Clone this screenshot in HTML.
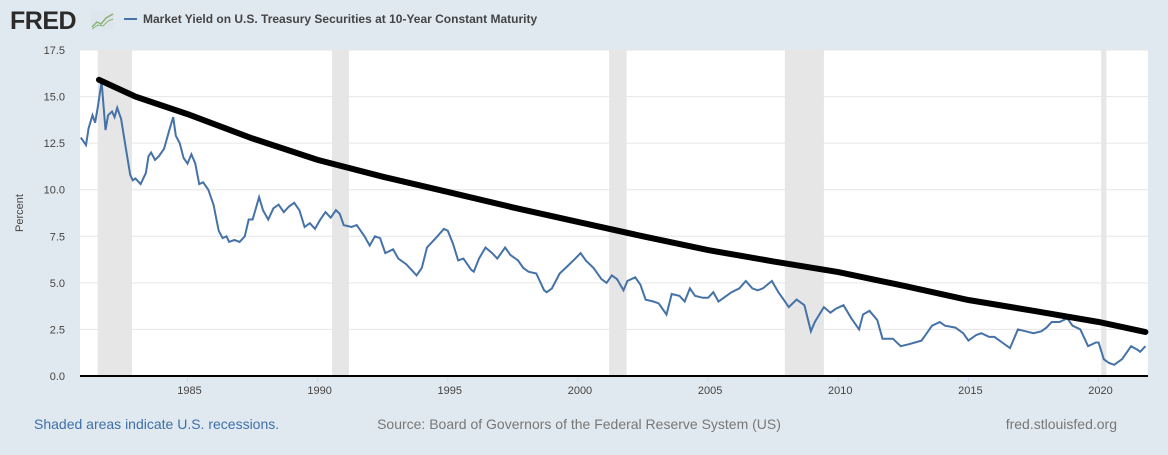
<!DOCTYPE html>
<html><head><meta charset="utf-8"><style>
body{margin:0;width:1168px;height:450px;background:#e1e9f0;font-family:"Liberation Sans",sans-serif;overflow:hidden}
</style></head><body>
<svg width="1168" height="450">
<g>
<text x="10" y="29" font-size="25" font-weight="bold" fill="#2b2b2b" letter-spacing="-0.5">FRED</text>
<rect x="91" y="11" width="23" height="19" fill="#dde6ec"/>
<polyline points="92,27 97,22 101,24 106,18 113,14" fill="none" stroke="#8bb174" stroke-width="1.5"/>
<polyline points="92,29 98,25 103,26 108,21 113,19" fill="none" stroke="#8bb174" stroke-width="1"/>
</g>
<line x1="124" y1="19" x2="137" y2="19" stroke="#4572a7" stroke-width="2"/>
<text x="143" y="23" font-size="12" font-weight="bold" fill="#444">Market Yield on U.S. Treasury Securities at 10-Year Constant Maturity</text>
<rect x="80" y="50" width="1068" height="326" fill="#fff"/>
<g id="rec"></g><g id="grid"></g><g id="xt"></g>
<line x1="80" y1="376" x2="1148" y2="376" stroke="#000" stroke-width="2"/>
<path id="blue" fill="none" stroke="#4572a7" stroke-width="2"/>
<path id="trend" fill="none" stroke="#000" stroke-width="6" stroke-linecap="round"/>
<text transform="translate(23,213) rotate(-90)" text-anchor="middle" font-size="11" fill="#444">Percent</text>
<text x="34" y="429" font-size="14" fill="#3e6fa8">Shaded areas indicate U.S. recessions.</text>
<text x="579" y="429" text-anchor="middle" font-size="14" fill="#777">Source: Board of Governors of the Federal Reserve System (US)</text>
<text x="1117" y="429" text-anchor="end" font-size="14" fill="#777">fred.stlouisfed.org</text>
</svg>
<script>
const yTicks=[0,2.5,5,7.5,10,12.5,15,17.5];
const xTicks=[1985,1990,1995,2000,2005,2010,2015,2020];
const recessions=[[1981.55,1982.87],[1990.55,1991.2],[2001.2,2001.87],[2007.95,2009.45],[2020.1,2020.3]];
const trendYears=[1981.6,1983,1985,1987.5,1990,1992.5,1995,1997.5,2000,2002.5,2005,2007.5,2010,2012.5,2015,2017.5,2020,2021.8];
const trendVals=[15.9,15.0,14.06,12.75,11.6,10.7,9.88,9.05,8.27,7.5,6.76,6.15,5.58,4.85,4.08,3.5,2.9,2.36];
const years=[1980.9,1981.1,1981.2,1981.35,1981.45,1981.55,1981.7,1981.85,1981.95,1982.1,1982.2,1982.3,1982.45,1982.6,1982.8,1982.9,1983.0,1983.2,1983.4,1983.5,1983.6,1983.75,1983.9,1984.1,1984.3,1984.45,1984.55,1984.7,1984.85,1985.0,1985.15,1985.3,1985.45,1985.6,1985.8,1986.0,1986.2,1986.35,1986.5,1986.6,1986.8,1987.0,1987.2,1987.35,1987.5,1987.75,1987.9,1988.1,1988.3,1988.5,1988.7,1988.9,1989.1,1989.3,1989.5,1989.7,1989.9,1990.1,1990.3,1990.5,1990.7,1990.85,1991.0,1991.3,1991.5,1991.8,1992.0,1992.2,1992.4,1992.6,1992.9,1993.1,1993.4,1993.6,1993.8,1994.0,1994.2,1994.4,1994.6,1994.85,1995.0,1995.2,1995.4,1995.6,1995.9,1996.0,1996.2,1996.45,1996.7,1996.9,1997.2,1997.4,1997.7,1997.9,1998.1,1998.4,1998.7,1998.8,1999.0,1999.3,1999.6,1999.9,2000.1,2000.3,2000.6,2000.9,2001.1,2001.3,2001.5,2001.75,2001.9,2002.2,2002.4,2002.6,2002.9,2003.1,2003.4,2003.6,2003.9,2004.1,2004.3,2004.5,2004.8,2005.0,2005.2,2005.4,2005.7,2005.9,2006.2,2006.45,2006.7,2006.9,2007.1,2007.45,2007.7,2007.9,2008.1,2008.4,2008.7,2008.95,2009.1,2009.45,2009.7,2009.9,2010.2,2010.5,2010.8,2010.95,2011.2,2011.5,2011.7,2011.9,2012.1,2012.4,2012.7,2012.95,2013.2,2013.4,2013.6,2013.9,2014.1,2014.5,2014.8,2015.0,2015.3,2015.5,2015.8,2016.0,2016.3,2016.6,2016.9,2017.2,2017.5,2017.8,2018.0,2018.2,2018.5,2018.8,2019.0,2019.3,2019.6,2019.9,2020.0,2020.2,2020.4,2020.6,2020.9,2021.1,2021.25,2021.5,2021.6,2021.8];
const yields=[12.8,12.4,13.3,14.0,13.6,14.4,15.8,13.2,14.0,14.2,13.9,14.4,13.8,12.5,10.8,10.5,10.6,10.3,10.9,11.8,12.0,11.6,11.8,12.2,13.2,13.9,12.9,12.5,11.7,11.4,11.9,11.4,10.3,10.4,10.0,9.2,7.8,7.4,7.5,7.2,7.3,7.2,7.5,8.4,8.4,9.6,8.9,8.4,9.0,9.2,8.8,9.1,9.3,8.9,8.0,8.2,7.9,8.4,8.8,8.5,8.9,8.7,8.1,8.0,8.1,7.5,7.0,7.5,7.4,6.6,6.8,6.3,6.0,5.7,5.4,5.8,6.9,7.2,7.5,7.9,7.8,7.1,6.2,6.3,5.7,5.6,6.3,6.9,6.6,6.3,6.9,6.5,6.2,5.8,5.6,5.5,4.6,4.5,4.7,5.5,5.9,6.3,6.6,6.2,5.8,5.2,5.0,5.4,5.2,4.6,5.1,5.3,4.9,4.1,4.0,3.9,3.3,4.4,4.3,4.0,4.7,4.3,4.2,4.2,4.5,4.0,4.3,4.5,4.7,5.1,4.7,4.6,4.7,5.1,4.5,4.1,3.7,4.1,3.8,2.4,2.9,3.7,3.4,3.6,3.8,3.1,2.5,3.3,3.5,3.0,2.0,2.0,2.0,1.6,1.7,1.8,1.9,2.3,2.7,2.9,2.7,2.6,2.3,1.9,2.2,2.3,2.1,2.1,1.8,1.5,2.5,2.4,2.3,2.4,2.6,2.9,2.9,3.1,2.7,2.5,1.6,1.8,1.8,0.9,0.7,0.6,0.9,1.3,1.6,1.4,1.3,1.6];
const X=y=>187.5+(y-1985)*26.03, Y=v=>376-v*326/17.5;
const NS="http://www.w3.org/2000/svg";
function mk(t,a,p){const e=document.createElementNS(NS,t);for(const k in a)e.setAttribute(k,a[k]);document.getElementById(p).appendChild(e);return e;}
recessions.forEach(r=>{const e=mk('rect',{x:X(r[0]),y:50,width:X(r[1])-X(r[0]),height:326,fill:'#e6e6e6'},'rec');

});
yTicks.forEach(v=>{if(v>0){const l=mk('line',{x1:80,x2:1148,y1:Y(v),y2:Y(v),stroke:'#e6e6e6'},'grid');

}
const t=mk('text',{x:65,y:Y(v)+4,'text-anchor':'end','font-size':11,fill:'#444'},'grid');t.textContent=v.toFixed(1);

});
xTicks.forEach(y=>{mk('line',{x1:X(y),x2:X(y),y1:376,y2:382,stroke:'#ccd6eb'},'xt');
const t=mk('text',{x:X(y)+2,y:394,'text-anchor':'middle','font-size':11,fill:'#444'},'xt');t.textContent=y;

});
document.getElementById('blue').setAttribute('d',years.map((y,i)=>(i?'L':'M')+X(y).toFixed(1)+','+Y(yields[i]).toFixed(1)).join(''));
document.getElementById('trend').setAttribute('d',trendYears.map((y,i)=>(i?'L':'M')+X(y).toFixed(1)+','+Y(trendVals[i]).toFixed(1)).join(''));
</script>
</body></html>
